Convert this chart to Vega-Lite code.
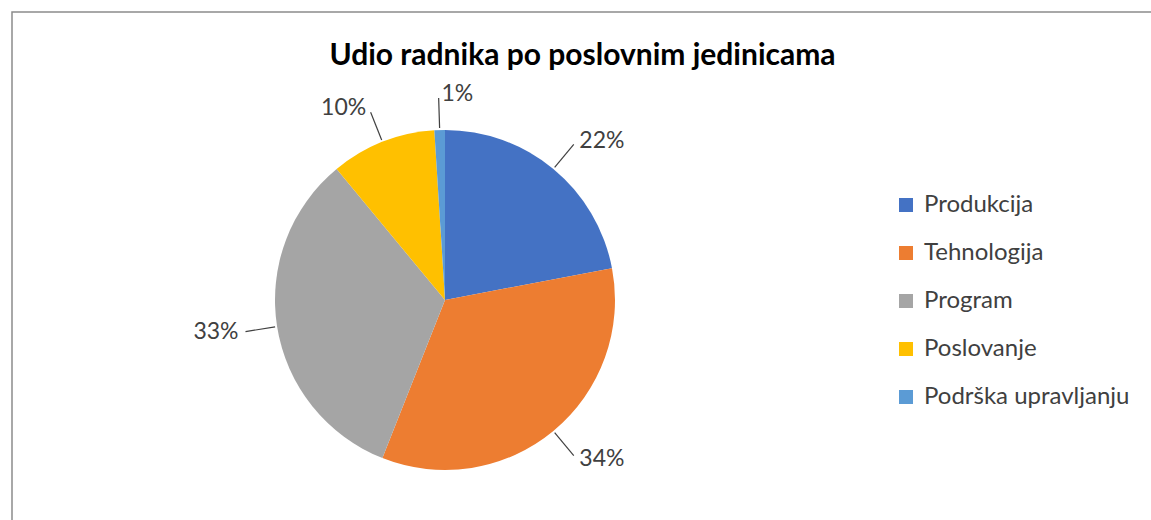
{
  "$schema": "https://vega.github.io/schema/vega-lite/v6.json",
  "autosize": {"type": "none"},
  "width": 1141,
  "height": 510,
  "padding": {"left": 12, "top": 12, "right": 0, "bottom": 0},
  "background": "white",
  "config": {
    "view": {"stroke": "#8c8c8c", "strokeWidth": 1.5},
    "font": "Lato"
  },
  "title": {
    "text": "Udio radnika po poslovnim jedinicama",
    "anchor": "middle",
    "frame": "group",
    "font": "Lato",
    "fontSize": 30,
    "fontWeight": "bold",
    "color": "#000000",
    "baseline": "alphabetic",
    "offset": -83
  },
  "data": {
    "values": [
      {"unit": "Produkcija", "share": 0.22, "rank": 1},
      {"unit": "Tehnologija", "share": 0.34, "rank": 2},
      {"unit": "Program", "share": 0.33, "rank": 3},
      {"unit": "Poslovanje", "share": 0.10, "rank": 4},
      {"unit": "Podrška upravljanju", "share": 0.01, "rank": 5}
    ]
  },
  "transform": [
    {"window": [{"op": "sum", "field": "share", "as": "cum"}], "sort": [{"field": "rank"}], "frame": [null, 0]},
    {"calculate": "(datum.cum - datum.share / 2) * 2 * PI", "as": "mid"},
    {"calculate": "172 * sin(datum.mid)", "as": "lx1"},
    {"calculate": "172 * cos(datum.mid)", "as": "ly1"},
    {"calculate": "202 * sin(datum.mid)", "as": "lx2"},
    {"calculate": "202 * cos(datum.mid)", "as": "ly2"},
    {"calculate": "206 * sin(datum.mid)", "as": "tx"},
    {"calculate": "206 * cos(datum.mid)", "as": "ty"}
  ],
  "resolve": {"scale": {"x": "shared", "y": "shared"}},
  "layer": [
    {
      "mark": {"type": "arc", "radius": 170, "stroke": null},
      "encoding": {
        "theta": {"field": "share", "type": "quantitative", "stack": true},
        "order": {"field": "rank", "type": "quantitative"},
        "x": {"datum": 0, "type": "quantitative", "scale": {"domain": [-433, 708], "zero": false, "nice": false}, "axis": null},
        "y": {"datum": 0, "type": "quantitative", "scale": {"domain": [-222, 288], "zero": false, "nice": false}, "axis": null},
        "color": {
          "field": "unit",
          "type": "nominal",
          "sort": ["Produkcija", "Tehnologija", "Program", "Poslovanje", "Podrška upravljanju"],
          "scale": {
            "domain": ["Produkcija", "Tehnologija", "Program", "Poslovanje", "Podrška upravljanju"],
            "range": ["#4472C4", "#ED7D31", "#A5A5A5", "#FFC000", "#5B9BD5"]
          },
          "legend": {
            "orient": "none",
            "legendX": 882,
            "legendY": 181,
            "title": null,
            "padding": 0,
            "symbolType": "square",
            "symbolSize": 196,
            "symbolStrokeWidth": 0,
            "labelFont": "Lato",
            "labelFontSize": 24,
            "labelColor": "#404040",
            "labelOffset": 6,
            "rowPadding": 24,
            "labelLimit": 300
          }
        }
      }
    },
    {
      "mark": {"type": "rule", "color": "#404040", "strokeWidth": 1.2},
      "encoding": {
        "x": {"field": "lx1", "type": "quantitative", "scale": {"domain": [-433, 708], "zero": false, "nice": false}, "axis": null},
        "y": {"field": "ly1", "type": "quantitative", "scale": {"domain": [-222, 288], "zero": false, "nice": false}, "axis": null},
        "x2": {"field": "lx2"},
        "y2": {"field": "ly2"}
      }
    },
    {
      "transform": [{"filter": "sin(datum.mid) > -0.1"}],
      "mark": {"type": "text", "font": "Lato", "fontSize": 23, "color": "#404040", "align": "left", "baseline": "middle", "dx": 3},
      "encoding": {
        "x": {"field": "tx", "type": "quantitative", "scale": {"domain": [-433, 708], "zero": false, "nice": false}, "axis": null},
        "y": {"field": "ty", "type": "quantitative", "scale": {"domain": [-222, 288], "zero": false, "nice": false}, "axis": null},
        "text": {"field": "share", "type": "quantitative", "format": ".0%"}
      }
    },
    {
      "transform": [{"filter": "sin(datum.mid) <= -0.1"}],
      "mark": {"type": "text", "font": "Lato", "fontSize": 23, "color": "#404040", "align": "right", "baseline": "middle", "dx": -3},
      "encoding": {
        "x": {"field": "tx", "type": "quantitative", "scale": {"domain": [-433, 708], "zero": false, "nice": false}, "axis": null},
        "y": {"field": "ty", "type": "quantitative", "scale": {"domain": [-222, 288], "zero": false, "nice": false}, "axis": null},
        "text": {"field": "share", "type": "quantitative", "format": ".0%"}
      }
    }
  ]
}
